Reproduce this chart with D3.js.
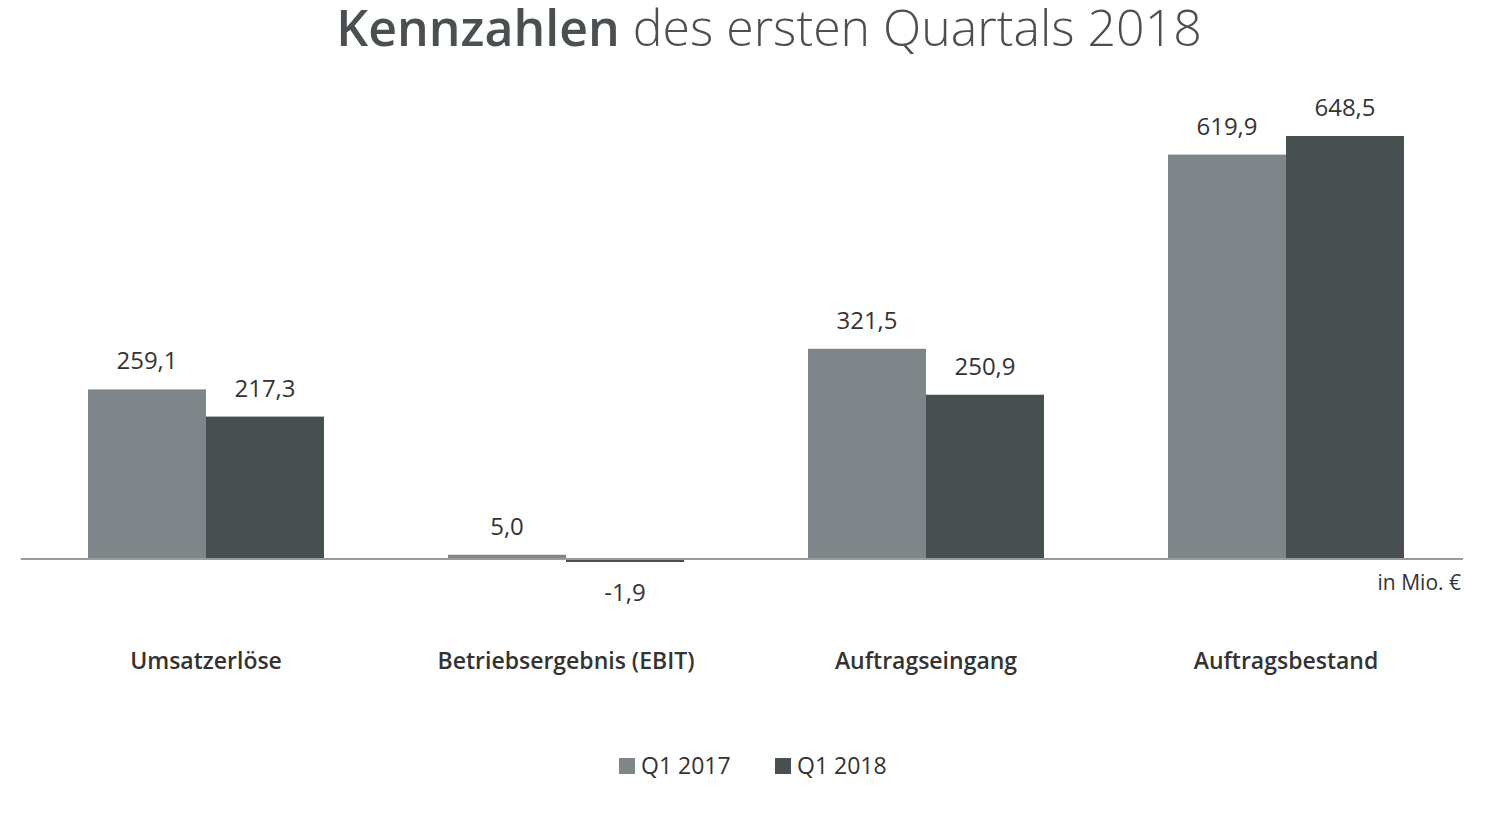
<!DOCTYPE html>
<html>
<head>
<meta charset="utf-8">
<script src="https://cdn.jsdelivr.net/npm/d3@7.9.0/dist/d3.min.js"></script>
<style>
  body { margin: 0; background: #fff; }
  svg text { font-family: "Open Sans", sans-serif; fill: #333; }
</style>
</head>
<body>
<svg id="chart" width="1488" height="817"></svg>
<script>
// ─── data ─────────────────────────────────────────────
const categories = ['Umsatzerlöse', 'Betriebsergebnis (EBIT)', 'Auftragseingang', 'Auftragsbestand'];
const seriesNames = ['Q1 2017', 'Q1 2018'];
const q1_2017 = [259.1, 5.0, 321.5, 619.9];
const q1_2018 = [217.3, -1.9, 250.9, 648.5];
const colors = ['#7f8689', '#474f51'];

const series = [q1_2017, q1_2018];
const fmt = v => d3.format('.1f')(v).replace('.', ',').replace('−', '-');

const svg = d3.select('#chart');

// title
const title = svg.append('text')
  .attr('x', 769).attr('y', 46)
  .attr('text-anchor', 'middle')
  .style('font-size', '50px');
title.append('tspan').style('font-weight', 600).style('fill', '#4a4f51').text('Kennzahlen');
title.append('tspan').style('font-weight', 300).style('fill', '#4a4f51').text(' des ersten Quartals 2018');

// scales
const x0 = d3.scaleBand().domain(categories).range([26, 1466]).paddingInner(0).paddingOuter(0);
const x1 = d3.scaleBand().domain(seriesNames).range([62, 298]);
const y = d3.scaleLinear().domain([0, 648.5]).range([558, 136]);

// bars
const rows = categories.map((c, i) => ({ cat: c, vals: series.map((s, j) => ({ name: seriesNames[j], v: s[i], j })) }));

const g = svg.append('g');
const grp = g.selectAll('g.cat').data(rows).join('g')
  .attr('transform', d => `translate(${x0(d.cat)},0)`);

grp.selectAll('rect').data(d => d.vals).join('rect')
  .attr('x', d => x1(d.name))
  .attr('width', x1.bandwidth())
  .attr('y', d => d.v >= 0 ? y(d.v) : y(0) + 1)
  .attr('height', d => d.v >= 0 ? y(0) - y(d.v) : Math.max(3, y(d.v) - y(0)))
  .attr('fill', d => colors[d.j]);

// value labels
grp.selectAll('text.val').data(d => d.vals).join('text')
  .attr('class', 'val')
  .attr('x', d => x1(d.name) + x1.bandwidth() / 2)
  .attr('y', d => d.v >= 0 ? y(d.v) - 20 : y(0) + 43)
  .attr('text-anchor', 'middle')
  .style('font-size', '24px')
  .text(d => fmt(d.v));

// baseline
svg.append('line')
  .attr('x1', 21).attr('x2', 1463)
  .attr('y1', y(0) + 1).attr('y2', y(0) + 1)
  .attr('stroke', '#9a9c9c').attr('stroke-width', 2);

// unit
svg.append('text')
  .attr('x', 1461).attr('y', 590)
  .attr('text-anchor', 'end')
  .style('font-size', '21px')
  .text('in Mio. €');

// category labels
svg.append('g').selectAll('text').data(categories).join('text')
  .attr('x', d => x0(d) + x0.bandwidth() / 2)
  .attr('y', 669)
  .attr('text-anchor', 'middle')
  .style('font-size', '23px')
  .style('font-weight', 600)
  .text(d => d);

// legend
const legend = svg.append('g');
const legendX = [619, 775];
seriesNames.forEach((n, i) => {
  const lg = legend.append('g').attr('transform', `translate(${legendX[i]},758)`);
  lg.append('rect').attr('width', 16).attr('height', 16).attr('fill', colors[i]);
  lg.append('text').attr('x', 22).attr('y', 16).style('font-size', '23px').text(n);
});
</script>
</body>
</html>
